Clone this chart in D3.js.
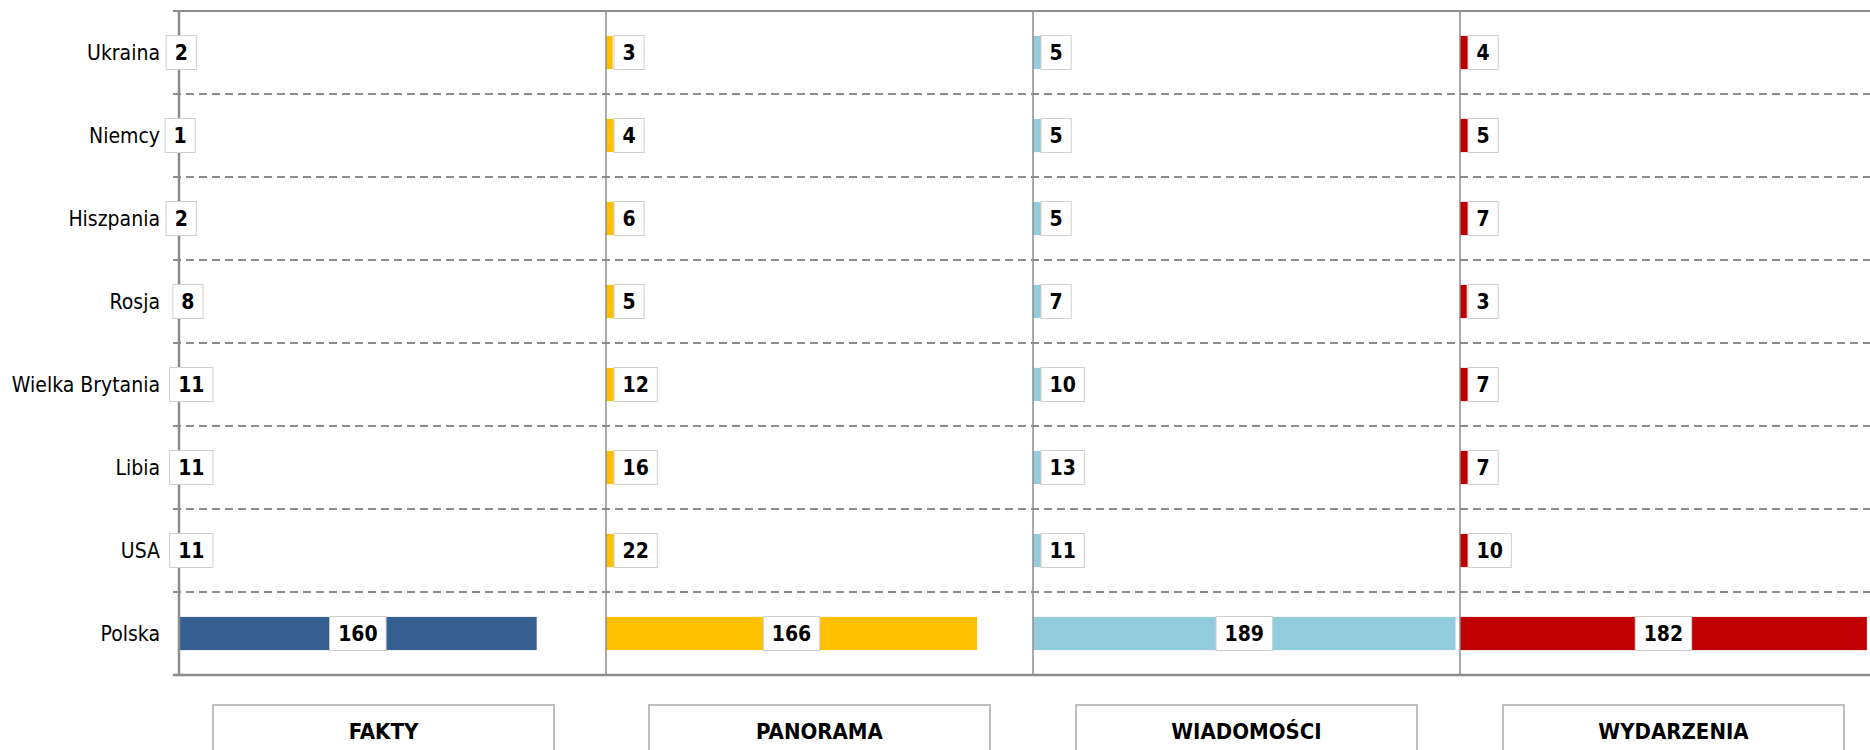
<!DOCTYPE html>
<html>
<head>
<meta charset="utf-8">
<script src="https://cdn.jsdelivr.net/npm/d3@7"></script>
<style>
  body { margin: 0; background: #fff; }
  text { font-family: "DejaVu Sans Condensed", "DejaVu Sans", sans-serif; }
</style>
</head>
<body>
<svg id="chart"></svg>
<script>
// Data
const categories = ["Ukraina", "Niemcy", "Hiszpania", "Rosja", "Wielka Brytania", "Libia", "USA", "Polska"];
const programs = ["FAKTY", "PANORAMA", "WIADOMOŚCI", "WYDARZENIA"];
const fakty = [2, 1, 2, 8, 11, 11, 11, 160];
const panorama = [3, 4, 6, 5, 12, 16, 22, 166];
const wiadomosci = [5, 5, 5, 7, 10, 13, 11, 189];
const wydarzenia = [4, 5, 7, 3, 7, 7, 10, 182];
const seriesValues = [fakty, panorama, wiadomosci, wydarzenia];
const colors = ["#376092", "#FFC000", "#93CDDD", "#C00000"];
// label placement per panel: first panel centred, the others sit at the bar base
const labelModes = ["center", "base", "base", "base"];
const xMax = 191;

// Layout
const width = 1870, height = 750;
const plotTop = 11, plotBottom = 675, plotLeft = 179, panelW = 427;
const gridColor = "#8c8c8c";

const svg = d3.select("#chart").attr("width", width).attr("height", height);
svg.append("rect").attr("width", width).attr("height", height).attr("fill", "#fff");

const panel = d3.scaleBand().domain(programs).range([plotLeft, plotLeft + panelW * programs.length]);
const x = d3.scaleLinear().domain([0, xMax]).range([0, panelW]);
const yRow = d3.scaleBand().domain(categories).range([plotTop, plotBottom]);
const yBar = d3.scaleBand().domain(categories).range([plotTop, plotBottom]).paddingInner(0.6).paddingOuter(0.3);

// Gridlines between rows
svg.append("g")
  .selectAll("line")
  .data(categories.slice(1))
  .enter()
  .append("line")
  .attr("x1", plotLeft - 6).attr("x2", width)
  .attr("y1", d => yRow(d)).attr("y2", d => yRow(d))
  .attr("stroke", gridColor)
  .attr("stroke-width", 2)
  .attr("stroke-dasharray", "8,5");

// Top and bottom borders
svg.append("line")
  .attr("x1", plotLeft - 6).attr("x2", width)
  .attr("y1", plotTop).attr("y2", plotTop)
  .attr("stroke", gridColor).attr("stroke-width", 2);
svg.append("line")
  .attr("x1", plotLeft - 6).attr("x2", width)
  .attr("y1", plotBottom).attr("y2", plotBottom)
  .attr("stroke", gridColor).attr("stroke-width", 2.5);

// Category labels
svg.append("g")
  .selectAll("text")
  .data(categories)
  .enter()
  .append("text")
  .attr("x", plotLeft - 19)
  .attr("y", d => yRow(d) + yRow.bandwidth() / 2)
  .attr("dy", "0.36em")
  .attr("text-anchor", "end")
  .attr("font-size", 21)
  .attr("fill", "#000")
  .text(d => d);

// Panels
programs.forEach((p, i) => {
  const px = panel(p);
  const rows = categories.map((c, j) => ({ cat: c, value: seriesValues[i][j] }));
  const g = svg.append("g");

  g.selectAll("rect.bar")
    .data(rows)
    .enter()
    .append("rect")
    .attr("class", "bar")
    .attr("x", px)
    .attr("y", d => yBar(d.cat))
    .attr("width", d => x(d.value))
    .attr("height", yBar.bandwidth())
    .attr("fill", colors[i]);

  // panel axis
  g.append("line")
    .attr("x1", px).attr("x2", px)
    .attr("y1", plotTop).attr("y2", plotBottom)
    .attr("stroke", gridColor)
    .attr("stroke-width", i === 0 ? 2.5 : 1.5);

  // data labels with white boxes
  rows.forEach(d => {
    const cy = yRow(d.cat) + yRow.bandwidth() / 2;
    const lg = g.append("g");
    const box = lg.append("rect");
    const t = lg.append("text")
      .attr("y", cy)
      .attr("dy", "0.36em")
      .attr("text-anchor", "middle")
      .attr("font-size", 21)
      .attr("font-weight", "bold")
      .attr("fill", "#000")
      .text(d.value);
    const tw = t.node().getComputedTextLength();
    const bw = tw + 17, bh = 34;
    const barW = x(d.value);
    let cx;
    if (labelModes[i] === "center" || barW > 100) cx = px + barW / 2;
    else cx = px + 8 + bw / 2;
    t.attr("x", cx);
    box.attr("x", cx - bw / 2).attr("y", cy - bh / 2)
      .attr("width", bw).attr("height", bh)
      .attr("fill", "#fff")
      .attr("stroke", "#cfcfcf")
      .attr("stroke-width", 1);
  });

  // program title box (the first one sits slightly left of its panel centre)
  const bx = px + panelW / 2 - (i === 0 ? 9 : 0);
  g.append("rect")
    .attr("x", bx - 170.5).attr("y", 705)
    .attr("width", 341).attr("height", 70)
    .attr("fill", "#fff")
    .attr("stroke", "#bfbfbf")
    .attr("stroke-width", 2);
  g.append("text")
    .attr("x", bx).attr("y", 731)
    .attr("dy", "0.36em")
    .attr("text-anchor", "middle")
    .attr("font-size", 22)
    .attr("font-weight", "bold")
    .attr("fill", "#000")
    .text(p);
});
</script>
</body>
</html>
